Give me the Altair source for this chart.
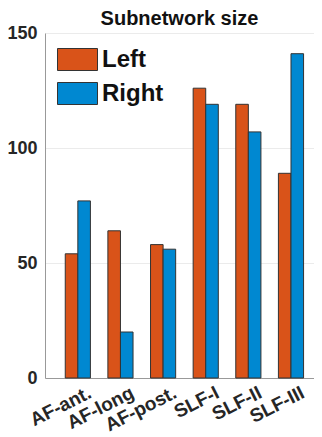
import altair as alt
import pandas as pd

categories = ["AF-ant.", "AF-long", "AF-post.", "SLF-I", "SLF-II", "SLF-III"]
left_vals = [54, 64, 58, 126, 119, 89]
right_vals = [77, 20, 56, 119, 107, 141]
sides = ["Left", "Right"]
colors = ["#D95319", "#0088D1"]

rows = []
for c, l, r in zip(categories, left_vals, right_vals):
    rows.append({"tract": c, "side": "Left", "size": l})
    rows.append({"tract": c, "side": "Right", "size": r})
df = pd.DataFrame(rows)

FONT = "Liberation Sans"

chart = alt.Chart(df).mark_bar(stroke="#333333", strokeWidth=1).encode(
    x=alt.X("tract:N", sort=categories, title=None,
            scale=alt.Scale(paddingInner=0.41, paddingOuter=0.36, align=0.66),
            axis=alt.Axis(labelAngle=-27, labelAlign="right", labelBaseline="top",
                          labelFontSize=19, labelFontWeight="bold", labelColor="#262626",
                          labelFont=FONT, ticks=False, domainColor="#999999",
                          labelPadding=5, labelOffset=8, grid=False)),
    xOffset=alt.XOffset("side:N", sort=sides, scale=alt.Scale(paddingInner=0)),
    y=alt.Y("size:Q", title=None, scale=alt.Scale(domain=[0, 150], nice=False),
            axis=alt.Axis(values=[0, 50, 100, 150], labelFontSize=18, labelFontWeight="bold",
                          labelColor="#262626", labelFont=FONT, ticks=False,
                          domainColor="#999999", gridColor="#ebebeb", labelPadding=8)),
    color=alt.Color("side:N", sort=sides,
                    scale=alt.Scale(domain=sides, range=colors),
                    legend=alt.Legend(title=None, orient="none", legendX=12, legendY=6,
                                      symbolType="M-1,-0.55H1V0.55H-1Z", symbolSize=1600,
                                      symbolStrokeColor="#333333", symbolStrokeWidth=1,
                                      symbolOpacity=1,
                                      labelFontSize=24, labelFontWeight="bold", labelFont=FONT,
                                      labelColor="#111111", rowPadding=-13, labelOffset=4)),
).properties(
    width=269, height=345,
    title=alt.TitleParams("Subnetwork size", fontSize=20, fontWeight="bold", font=FONT,
                          color="#111111", offset=-5),
    autosize=alt.AutoSizeParams(type="none"),
    padding={"left": 37, "top": 25, "right": 0, "bottom": 62},
).configure_view(stroke=None)

chart.save("out.html", embed_options={"renderer": "svg", "actions": False})
